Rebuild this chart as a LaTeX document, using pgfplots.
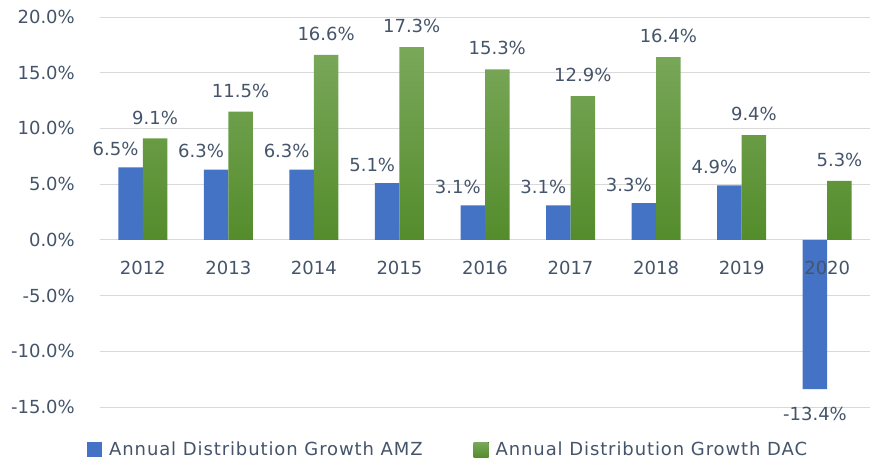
\documentclass[border=0pt]{standalone}
\usepackage{fontspec}
\setmainfont{DejaVu Sans}
\newfontfamily\legfont{DejaVu Sans}[LetterSpace=5]
\usepackage{pgfplots}
\pgfplotsset{compat=1.18}
\definecolor{txt}{HTML}{44546A}
\definecolor{amz}{HTML}{4472C4}
\definecolor{dactop}{RGB}{122,168,90}
\definecolor{dacbot}{RGB}{84,140,44}
\definecolor{gridc}{HTML}{D9D9D9}
\newcommand{\fs}{\fontsize{18}{21.6}\selectfont}
\begin{document}
\begin{tikzpicture}
\useasboundingbox (0,0) rectangle (878pt,461pt);
\begin{axis}[
  at={(100pt,54pt)}, anchor=south west,
  scale only axis, width=770pt, height=390pt,
  xmin=-0.5, xmax=8.5, ymin=-15, ymax=20,
  ybar=0pt, bar width=24.5pt,
  clip=false,
  axis line style={draw=none},
  major tick length=0pt,
  xtick=\empty,
  ytick={-15,-10,-5,0,5,10,15,20},
  ymajorgrids, grid style={gridc, line width=1pt},
  /pgf/number format/assume math mode=true,
  yticklabel={\pgfmathprintnumber[fixed,fixed zerofill,precision=1]{\tick}\%},
  yticklabel style={anchor=east, inner sep=0pt, xshift=-25pt, font=\fs, text=txt},
  legend columns=2,
  legend cell align=left,
  legend style={at={(axis description cs:-0.0169,-0.110)}, anchor=west, draw=none, fill=none, inner sep=0pt,
    font=\legfont\fs, text=txt, /tikz/every even column/.append style={column sep=49pt}},
  legend image code/.code={\fill[#1] (0pt,-7.5pt) rectangle (15pt,7.5pt); \path (20pt,0pt);},
]
\addplot[fill=amz, draw=none,
  nodes near coords={\pgfmathprintnumber[fixed,fixed zerofill,precision=1]{\pgfplotspointmeta}\%},
  visualization depends on={rawy \as \rawy},
  every node near coord/.append style={inner sep=0pt, text=txt, font=\fs,
     xshift={(\rawy>0)*(-15)}, yshift={(\rawy>0)*11.5-(\rawy<0)*18}}]
  coordinates {(0,6.5) (1,6.3) (2,6.3) (3,5.1) (4,3.1) (5,3.1) (6,3.3) (7,4.9) (8,-13.4)};
\addlegendentry{Annual Distribution Growth AMZ}
\addplot[top color=dactop, bottom color=dacbot, draw=none,
  nodes near coords={\pgfmathprintnumber[fixed,fixed zerofill,precision=1]{\pgfplotspointmeta}\%},
  every node near coord/.append style={inner sep=0pt, text=txt, font=\fs, yshift=14pt}]
  coordinates {(0,9.1) (1,11.5) (2,16.6) (3,17.3) (4,15.3) (5,12.9) (6,16.4) (7,9.4) (8,5.3)};
\addlegendentry{Annual Distribution Growth DAC}
\node[anchor=base, inner sep=0pt, text=txt, font=\fs, yshift=-34.5pt] at (axis cs:0,0) {2012};
\node[anchor=base, inner sep=0pt, text=txt, font=\fs, yshift=-34.5pt] at (axis cs:1,0) {2013};
\node[anchor=base, inner sep=0pt, text=txt, font=\fs, yshift=-34.5pt] at (axis cs:2,0) {2014};
\node[anchor=base, inner sep=0pt, text=txt, font=\fs, yshift=-34.5pt] at (axis cs:3,0) {2015};
\node[anchor=base, inner sep=0pt, text=txt, font=\fs, yshift=-34.5pt] at (axis cs:4,0) {2016};
\node[anchor=base, inner sep=0pt, text=txt, font=\fs, yshift=-34.5pt] at (axis cs:5,0) {2017};
\node[anchor=base, inner sep=0pt, text=txt, font=\fs, yshift=-34.5pt] at (axis cs:6,0) {2018};
\node[anchor=base, inner sep=0pt, text=txt, font=\fs, yshift=-34.5pt] at (axis cs:7,0) {2019};
\node[anchor=base, inner sep=0pt, text=txt, font=\fs, yshift=-34.5pt] at (axis cs:8,0) {2020};
\end{axis}
\end{tikzpicture}
\end{document}
